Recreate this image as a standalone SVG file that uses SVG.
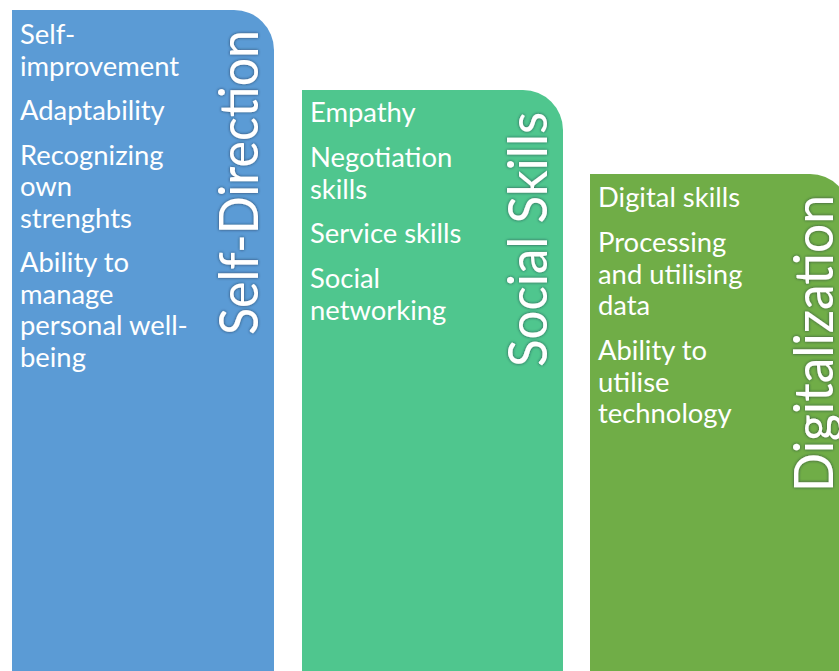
<svg xmlns="http://www.w3.org/2000/svg" width="839" height="671" viewBox="0 0 839 671">
<defs>
<filter id="sh" x="-10%" y="-20%" width="120%" height="140%">
<feDropShadow dx="0" dy="0" stdDeviation="1.6" flood-color="#1a2a3a" flood-opacity="0.75"/>
</filter>
</defs>
<style>
.body{font-family:Lato,"Open Sans","Liberation Sans",sans-serif;font-size:27.4px;fill:#ffffff}
.title{font-family:Lato,"Open Sans","Liberation Sans",sans-serif;font-size:54px;fill:#ffffff;text-anchor:end;filter:url(#sh)}
</style>
<rect width="839" height="671" fill="#ffffff"/>
<g id="col-self-direction">
<path d="M12 10 H234 A40 40 0 0 1 274 50 V671 H12 Z" fill="#5B9BD5"/>
<text class="title" transform="translate(258 30) rotate(-90)" textLength="305" lengthAdjust="spacingAndGlyphs">Self-Direction</text>
<text class="body" x="20"><tspan x="20" y="44">Self-</tspan><tspan x="20" y="75.5">improvement</tspan><tspan x="20" y="120">Adaptability</tspan><tspan x="20" y="164.5">Recognizing</tspan><tspan x="20" y="196">own</tspan><tspan x="20" y="227.5">strenghts</tspan><tspan x="20" y="272">Ability to</tspan><tspan x="20" y="303.5">manage</tspan><tspan x="20" y="335">personal well-</tspan><tspan x="20" y="366.5">being</tspan></text>
</g>
<g id="col-social-skills">
<path d="M302 90 H523 A40 40 0 0 1 563 130 V671 H302 Z" fill="#4FC68E"/>
<text class="title" transform="translate(547 112) rotate(-90)" textLength="255" lengthAdjust="spacingAndGlyphs">Social Skills</text>
<text class="body"><tspan x="310" y="122">Empathy</tspan><tspan x="310" y="167">Negotiation</tspan><tspan x="310" y="198.5">skills</tspan><tspan x="310" y="243">Service skills</tspan><tspan x="310" y="288">Social</tspan><tspan x="310" y="319.5">networking</tspan></text>
</g>
<g id="col-digitalization">
<path d="M590 174 H810 A40 40 0 0 1 850 214 V671 H590 Z" fill="#70AD47"/>
<text class="title" transform="translate(833 195) rotate(-90)" textLength="297" lengthAdjust="spacingAndGlyphs">Digitalization</text>
<text class="body"><tspan x="598" y="207">Digital skills</tspan><tspan x="598" y="252">Processing</tspan><tspan x="598" y="283.5">and utilising</tspan><tspan x="598" y="315">data</tspan><tspan x="598" y="360">Ability to</tspan><tspan x="598" y="391.5">utilise</tspan><tspan x="598" y="423">technology</tspan></text>
</g>
<g id="connectors"/>
</svg>
